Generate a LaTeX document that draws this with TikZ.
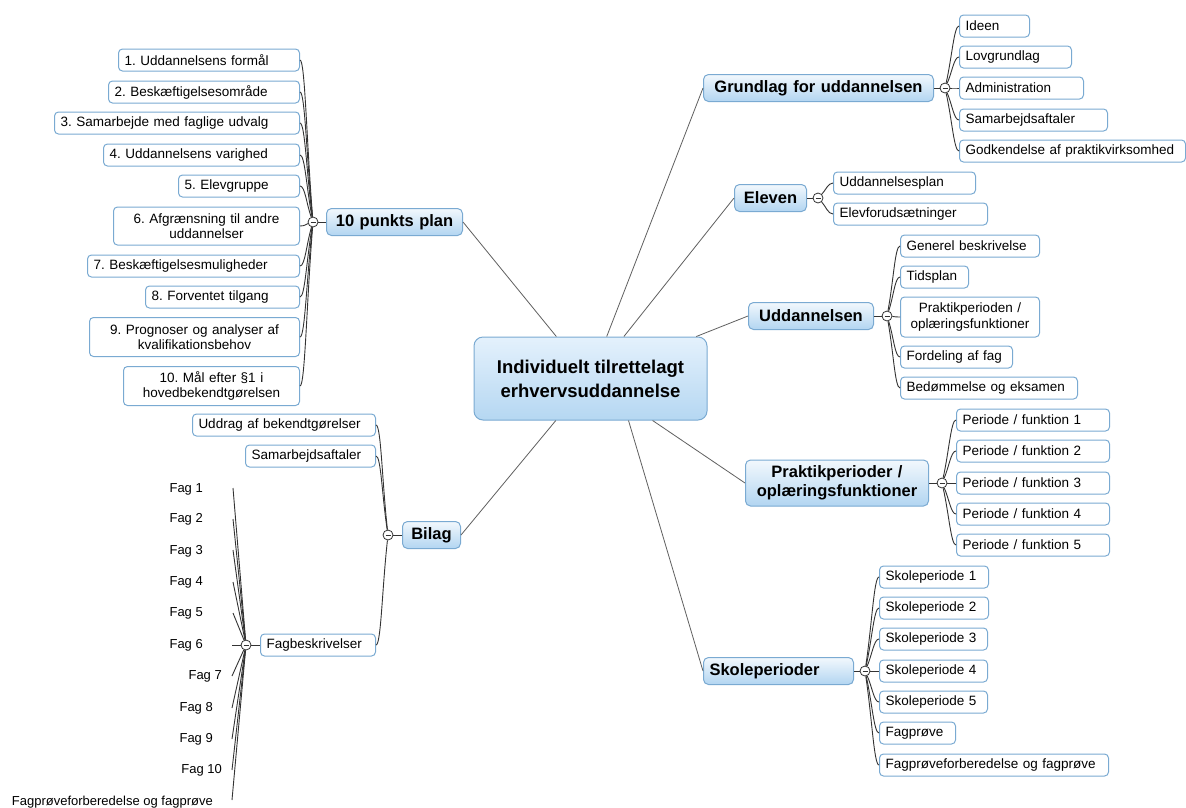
\documentclass[tikz,border=0pt]{standalone}
\usepackage{fontspec}
\setmainfont{Liberation Sans}
\usetikzlibrary{calc}
\definecolor{bd}{HTML}{7AAAD2}
\definecolor{mtop}{HTML}{F2F8FD}
\definecolor{mbot}{HTML}{B2D5F1}
\definecolor{ctop}{HTML}{E4F1FC}
\definecolor{cbot}{HTML}{B5D7F2}
\definecolor{ln}{HTML}{333333}
\definecolor{mln}{HTML}{606060}
\frenchspacing
\newcommand\knobminus{{\color{ln}\rule{5pt}{1pt}}}
\newcommand\cbx[6][]{\pgfmathsetmacro\bxw{#4-#3-12}\node[cbox,text width=\bxw pt,anchor=west,#1] (#2) at (#3,#5) {#6};}
\newcommand\mbx[6][]{\pgfmathsetmacro\bxw{#4-#3-12}\node[mbox,text width=\bxw pt,anchor=west,#1] (#2) at (#3,#5) {#6};}
\newcommand\rcon[2]{\draw[cl] (#1) .. controls ($(#1)!0.5!(#2.west)$) and ($(#2.west)+(-5,0)$) .. (#2.west);}
\newcommand\lcon[2]{\draw[cl] (#1) .. controls ($(#1)!0.5!(#2.east)$) and ($(#2.east)+(5,0)$) .. (#2.east);}
\begin{document}
\begin{tikzpicture}[x=1pt,y=-1pt,
 cbox/.style={draw=bd,line width=1pt,rounded corners=4pt,fill=white,inner xsep=6pt,inner ysep=2pt,minimum height=22pt,align=left,font=\fontsize{13.5}{15.5}\selectfont},
 mbox/.style={draw=bd,line width=1pt,rounded corners=5pt,top color=mtop,bottom color=mbot,inner xsep=6pt,inner ysep=2pt,minimum height=27pt,align=center,font=\bfseries\fontsize{16.5}{19}\selectfont},
 ctrbox/.style={draw=bd,line width=1pt,rounded corners=9pt,top color=ctop,bottom color=cbot,minimum width=233pt,minimum height=83pt,align=center,font=\bfseries\fontsize{18.5}{24}\selectfont},
 knob/.style={circle,draw=ln,fill=white,line width=0.8pt,minimum size=10pt,inner sep=0pt},
 cl/.style={draw=ln,line width=0.9pt},
 ml/.style={draw=mln,line width=0.8pt},
 fag/.style={inner sep=0pt,anchor=east,font=\fontsize{13}{15}\selectfont}]
\fill[white] (0,0) rectangle (1186,807);
\path[use as bounding box] (0,0) rectangle (1186,807);

% centre
\node[ctrbox] (ctr) at (590.5,378.5) {Individuelt tilrettelagt\\erhvervsuddannelse};

% Grundlag
\mbx{grund}{703}{933}{88}{Grundlag for uddannelsen}
\node[knob] (kg) at (945,88) {\knobminus};
\cbx{g1}{959}{1029}{26}{Ideen}
\cbx{g2}{959}{1071}{57}{Lovgrundlag}
\cbx{g3}{959}{1083}{88}{Administration}
\cbx{g4}{959}{1107}{120}{Samarbejdsaftaler}
\cbx{g5}{959}{1185}{151}{Godkendelse af praktikvirksomhed}

% Eleven
\mbx{elev}{734}{806}{198}{Eleven}
\node[knob] (ke) at (818,198) {\knobminus};
\cbx{e1}{833}{975}{183}{Uddannelsesplan}
\cbx{e2}{833}{987}{214}{Elevforudsætninger}

% Uddannelsen
\mbx{udd}{748}{873}{316}{Uddannelsen}
\node[knob] (ku) at (887,316) {\knobminus};
\cbx{u1}{900}{1039}{246}{Generel beskrivelse}
\cbx{u2}{900}{968}{277}{Tidsplan}
\cbx[align=center,minimum height=40pt]{u3}{900}{1039}{317}{Praktikperioden /\\oplæringsfunktioner}
\cbx{u4}{900}{1012}{357}{Fordeling af fag}
\cbx{u5}{900}{1077}{388}{Bedømmelse og eksamen}

% Praktikperioder
\mbx[minimum height=46pt]{prak}{745}{928}{483}{Praktikperioder /\\oplæringsfunktioner}
\node[knob] (kp) at (942,483) {\knobminus};
\cbx{p1}{956}{1109}{420}{Periode / funktion 1}
\cbx{p2}{956}{1109}{451}{Periode / funktion 2}
\cbx{p3}{956}{1109}{483}{Periode / funktion 3}
\cbx{p4}{956}{1109}{514}{Periode / funktion 4}
\cbx{p5}{956}{1109}{545}{Periode / funktion 5}

% Skoleperioder
\mbx[align=left]{skole}{703}{853}{671}{Skoleperioder}
\node[knob] (ks) at (865,671) {\knobminus};
\cbx{s1}{879}{988}{577}{Skoleperiode 1}
\cbx{s2}{879}{988}{608}{Skoleperiode 2}
\cbx{s3}{879}{987}{639}{Skoleperiode 3}
\cbx{s4}{879}{987}{671}{Skoleperiode 4}
\cbx{s5}{879}{987}{702}{Skoleperiode 5}
\cbx{s6}{879}{955}{733}{Fagprøve}
\cbx{s7}{879}{1108}{765}{Fagprøveforberedelse og fagprøve}

% 10 punkts plan
\mbx{ten}{326}{462}{222}{10 punkts plan}
\node[knob] (kt) at (313,222) {\knobminus};
\cbx{t1}{118}{299}{60}{1. Uddannelsens formål}
\cbx{t2}{108}{299}{92}{2. Beskæftigelsesområde}
\cbx{t3}{54}{299}{123}{3. Samarbejde med faglige udvalg}
\cbx{t4}{103}{299}{155}{4. Uddannelsens varighed}
\cbx{t5}{178}{299}{186}{5. Elevgruppe}
\cbx[align=center,minimum height=38pt]{t6}{113}{299}{226}{6. Afgrænsning til andre\\uddannelser}
\cbx{t7}{87}{299}{266}{7. Beskæftigelsesmuligheder}
\cbx{t8}{145}{299}{297}{8. Forventet tilgang}
\cbx[align=center,minimum height=39pt]{t9}{89}{299}{337}{9. Prognoser og analyser af\\kvalifikationsbehov}
\cbx[align=center,minimum height=39pt]{t10}{123}{299}{386}{10. Mål efter §1 i\\hovedbekendtgørelsen}

% Bilag
\mbx{bil}{402}{460}{535}{Bilag}
\node[knob] (kb) at (388,535) {\knobminus};
\cbx{b1}{192}{375}{425}{Uddrag af bekendtgørelser}
\cbx{b2}{245}{375}{456}{Samarbejdsaftaler}
\cbx{b3}{260}{375}{645}{Fagbeskrivelser}
\node[knob] (kf) at (246,645) {\knobminus};

% Fag items
\node[fag] (f1) at (203,489) {Fag 1};
\node[fag] (f2) at (203,519) {Fag 2};
\node[fag] (f3) at (203,551) {Fag 3};
\node[fag] (f4) at (203,582) {Fag 4};
\node[fag] (f5) at (203,613) {Fag 5};
\node[fag] (f6) at (203,645) {Fag 6};
\node[fag] (f7) at (222,676) {Fag 7};
\node[fag] (f8) at (213,708) {Fag 8};
\node[fag] (f9) at (213,739) {Fag 9};
\node[fag] (f10) at (222,770) {Fag 10};
\node[fag] (f11) at (213,802) {Fagprøveforberedelse og fagprøve};
\coordinate (fe1) at (233,488);
\coordinate (fe2) at (233,519);
\coordinate (fe3) at (233,550);
\coordinate (fe4) at (233,582);
\coordinate (fe5) at (233,613);
\coordinate (fe6) at (232,645);
\coordinate (fe7) at (232,676);
\coordinate (fe8) at (232,708);
\coordinate (fe9) at (232,739);
\coordinate (fe10) at (232,770);
\coordinate (fe11) at (232,800);

% main connectors
\draw[ml] (ctr) -- (grund.west);
\draw[ml] (ctr) -- (elev.west);
\draw[ml] (ctr) -- (udd.west);
\draw[ml] (ctr) -- (prak.west);
\draw[ml] ($(ctr.south)+(38,0)$) -- (skole.west);
\draw[ml] (ctr) -- (ten.east);
\draw[ml] (ctr) -- (bil.east);

% box to knob
\draw[cl] (grund) -- (kg);
\draw[cl] (elev) -- (ke);
\draw[cl] (udd) -- (ku);
\draw[cl] (prak) -- (kp);
\draw[cl] (skole) -- (ks);
\draw[cl] (ten) -- (kt);
\draw[cl] (bil) -- (kb);
\draw[cl] (b3) -- (kf);

% knob to children
\foreach \c in {g1,g2,g3,g4,g5} {\rcon{kg}{\c}}
\foreach \c in {e1,e2} {\rcon{ke}{\c}}
\foreach \c in {u1,u2,u3,u4,u5} {\rcon{ku}{\c}}
\foreach \c in {p1,p2,p3,p4,p5} {\rcon{kp}{\c}}
\foreach \c in {s1,s2,s3,s4,s5,s6,s7} {\rcon{ks}{\c}}
\foreach \c in {t1,t2,t3,t4,t5,t6,t7,t8,t9,t10} {\lcon{kt}{\c}}
\foreach \c in {b1,b2,b3} {\lcon{kb}{\c}}
\foreach \c in {fe1,fe2,fe3,fe4,fe5,fe6,fe7,fe8,fe9,fe10,fe11} {\draw[cl] (kf) -- (\c);}
\end{tikzpicture}
\end{document}
